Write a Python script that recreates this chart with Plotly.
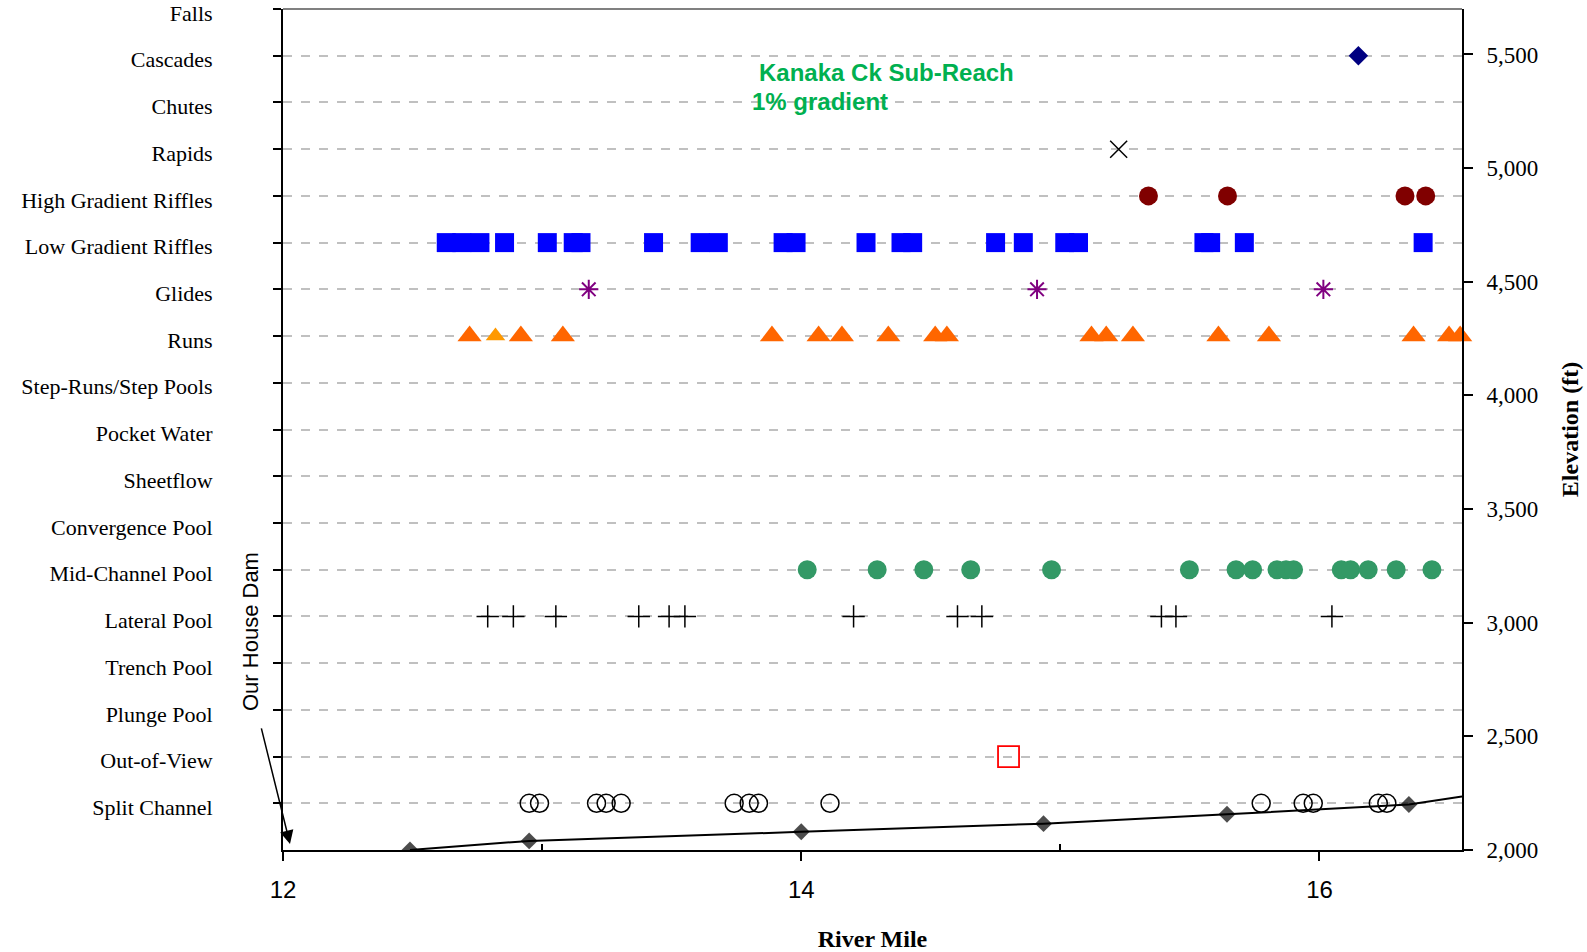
import plotly.graph_objects as go

# Habitat categories (bottom -> top)
categories = ["Split Channel", "Out-of-View", "Plunge Pool", "Trench Pool", "Lateral Pool",
              "Mid-Channel Pool", "Convergence Pool", "Sheetflow", "Pocket Water",
              "Step-Runs/Step Pools", "Runs", "Glides", "Low Gradient Riffles",
              "High Gradient Riffles", "Rapids", "Chutes", "Cascades", "Falls"]

# River mile of each observed habitat unit
cascades_rm = [16.15]
rapids_rm = [15.225]
hgr_rm = [15.34, 15.645, 16.33, 16.41]
lgr_rm = [12.63, 12.69, 12.76, 12.855, 13.02, 13.12, 13.15, 13.43, 13.61, 13.68, 13.93, 13.98,
          14.25, 14.385, 14.43, 14.75, 14.857, 15.017, 15.07, 15.554, 15.58, 15.71, 16.40]
glides_rm = [13.18, 14.91, 16.015]
runs_rm = [12.72, 12.918, 13.08, 13.887, 14.067, 14.157, 14.336, 14.517, 14.562, 15.12,
           15.177, 15.28, 15.61, 15.805, 16.363, 16.50, 16.543]
runs_alt_rm = [12.82]
midchannel_rm = [14.023, 14.293, 14.473, 14.654, 14.966, 15.498, 15.678, 15.742, 15.836,
                 15.871, 15.90, 16.084, 16.12, 16.188, 16.296, 16.434]
lateral_rm = [12.79, 12.889, 13.053, 13.373, 13.49, 13.551, 14.202, 14.603, 14.697,
              15.39, 15.446, 16.048]
outofview_rm = [14.80]
split_rm = [12.95, 12.99, 13.21, 13.247, 13.305, 13.741, 13.799, 13.835, 14.111,
            15.775, 15.937, 15.976, 16.227, 16.26]

# Channel elevation profile
elev_rm = [12.49, 12.95, 14.00, 14.935, 15.643, 16.345, 16.55]
elev_ft = [2000, 2040, 2080, 2116, 2157, 2200, 2235]

x_ticks = [12, 14, 16]
elev_ticks = [2000, 2500, 3000, 3500, 4000, 4500, 5000, 5500]


def level(name):
    return categories.index(name) + 1


fig = go.Figure()


def add(xs, cat, symbol, color, size, lw=0, lcolor=None):
    fig.add_trace(go.Scatter(
        x=xs, y=[level(cat)] * len(xs), mode="markers", name=cat, showlegend=False,
        marker=dict(symbol=symbol, color=color, size=size,
                    line=dict(width=lw, color=lcolor if lcolor else color)),
        cliponaxis=False))


add(split_rm, "Split Channel", "circle-open", "black", 18, 1.5)
add(outofview_rm, "Out-of-View", "square-open", "#FF0000", 21, 1.8)
add(lateral_rm, "Lateral Pool", "cross-thin-open", "black", 16, 1.5)
add(midchannel_rm, "Mid-Channel Pool", "circle", "#339966", 19)
add(runs_rm, "Runs", "triangle-up", "#FF6600", 21)
add(runs_alt_rm, "Runs", "triangle-up", "#FF9900", 17)
add(glides_rm, "Glides", "asterisk-open", "#800080", 16, 2)
add(lgr_rm, "Low Gradient Riffles", "square", "#0000FF", 19)
add(hgr_rm, "High Gradient Riffles", "circle", "#800000", 19)
add(rapids_rm, "Rapids", "x-thin-open", "black", 17, 1.5)
add(cascades_rm, "Cascades", "diamond", "#000080", 15)

fig.add_trace(go.Scatter(
    x=elev_rm, y=elev_ft, yaxis="y2", mode="lines+markers", showlegend=False,
    line=dict(color="black", width=2),
    marker=dict(symbol="diamond", color="black", size=[13] * (len(elev_rm) - 1) + [0],
                line=dict(width=0))))

serif = "Liberation Serif, Times New Roman, serif"
sans = "Liberation Sans, Arial, sans-serif"

fig.update_layout(
    width=1587, height=952,
    margin=dict(l=283, r=125, t=9, b=102),
    paper_bgcolor="white", plot_bgcolor="white",
    xaxis=dict(
        range=[12, 16.55], tickvals=x_ticks, ticks="outside", ticklen=9, tickwidth=1.5,
        tickcolor="black", showline=True, linecolor="black", linewidth=2,
        showgrid=False, zeroline=False, ticklabelstandoff=8, automargin=False,
        tickfont=dict(family=sans, size=24, color="black"),
        minor=dict(tickvals=[13, 15], ticks="inside", ticklen=6, tickwidth=1.5,
                   tickcolor="black", showgrid=False),
        title=dict(text="<b>River Mile</b>", standoff=31,
                   font=dict(family=serif, size=24, color="black")),
    ),
    yaxis=dict(
        range=[0, 18], tickvals=list(range(1, 19)), ticktext=categories,
        ticks="outside", ticklen=8, tickwidth=1.5, tickcolor="black",
        showline=True, linecolor="black", linewidth=2, zeroline=False,
        showgrid=True, gridcolor="#C0C0C0", griddash="dash", gridwidth=1.5,
        ticklabelstandoff=56, ticklabelshift=4, ticklabeloverflow="allow",
        automargin=False,
        tickfont=dict(family=serif, size=22, color="black"),
    ),
    yaxis2=dict(
        overlaying="y", side="right", range=[2000, 5700], tickvals=elev_ticks,
        tickformat=",", ticks="outside", ticklen=9, tickwidth=1.5, tickcolor="black",
        showline=True, linecolor="black", linewidth=2, showgrid=False, zeroline=False,
        ticklabelstandoff=9, automargin=False,
        tickfont=dict(family=serif, size=23, color="black"),
        title=dict(text="<b>Elevation (ft)</b>", standoff=24,
                   font=dict(family=serif, size=24, color="black")),
    ),
    shapes=[dict(type="line", xref="paper", yref="paper", x0=0, x1=1, y0=1, y1=1,
                 line=dict(color="#808080", width=2))],
    annotations=[
        dict(text="<b>Kanaka Ck Sub-Reach</b>", xref="paper", yref="paper",
             x=0.402, y=0.925, xanchor="left", yanchor="middle", showarrow=False,
             font=dict(family=sans, size=24, color="#00B050")),
        dict(text="<b>1% gradient</b>", xref="paper", yref="paper",
             x=0.396, y=0.8906, xanchor="left", yanchor="middle", showarrow=False,
             font=dict(family=sans, size=24, color="#00B050")),
        dict(text="Our House Dam", xref="paper", yref="paper", x=-0.028, y=0.2604,
             xanchor="center", yanchor="middle", textangle=-90, showarrow=False,
             font=dict(family=sans, size=22, color="black")),
        dict(text="", x=12.027, y=0.13, xref="x", yref="y", showarrow=True,
             ax=-29, ay=-117, arrowhead=2, arrowsize=1.8, arrowwidth=1.5,
             arrowcolor="black"),
    ],
)

fig.write_html("out.html", config={"displayModeBar": False},
               post_script="document.body.style.margin='0';document.body.style.overflow='hidden';")
